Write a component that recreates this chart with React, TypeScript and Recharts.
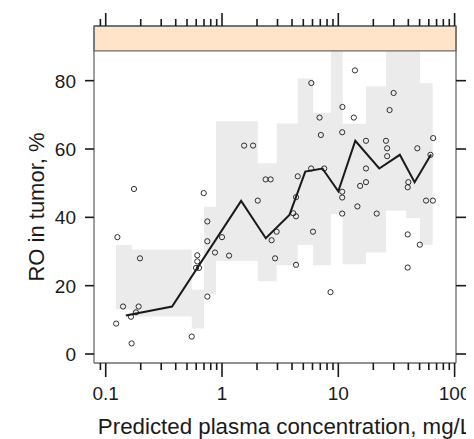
import React from 'react';
import { ComposedChart, XAxis, YAxis, Area, Line, Scatter, ReferenceArea } from 'recharts';

// binned interval (gray band)
const binStart = [0.1227, 0.1674, 0.549, 0.7, 0.888, 2.028, 2.953, 4.477, 6.06, 8.65, 10.91, 17.3, 25.7, 38.2, 50.4];
const binLastEnd = 64.8;
const bandLow = [13.1, 11.0, 7.5, 17.4, 27.2, 21.3, 26.0, 31.9, 26.0, 41.0, 26.3, 29.7, 41.9, 39.8, 31.9];
const bandHigh = [31.9, 30.6, 18.8, 43.1, 68.1, 55.8, 67.5, 80.6, 70.6, 88.7, 67.4, 78.3, 88.7, 88.7, 79.3];

// median line
const medX = [0.149, 0.372, 1.46, 2.38, 3.8, 5.2, 7.3, 10.0, 14.0, 22.5, 33.8, 45.3, 62.7];
const medY = [11.3, 13.9, 44.8, 33.9, 40.7, 53.4, 54.3, 47.6, 62.4, 54.3, 58.3, 50.3, 58.4];

// observations
const pointX = [
  0.123, 0.126, 0.141, 0.165, 0.167, 0.175, 0.182, 0.192, 0.197, 0.549,
  0.598, 0.613, 0.613, 0.634, 0.696, 0.748, 0.748, 0.748, 0.87, 1.0,
  1.15, 1.55, 1.85, 2.03, 2.37, 2.62, 2.67, 2.86, 2.95, 4.1,
  4.33, 4.33, 4.33, 4.48, 5.84, 5.86, 6.06, 6.9, 7.08, 7.57,
  8.57, 10.85, 10.8, 10.8, 10.8, 10.8, 13.6, 13.9, 14.6, 15.4,
  17.3, 17.3, 17.3, 21.4, 25.7, 26.3, 26.3, 27.6, 29.9, 39.5,
  39.5, 39.5, 40.0, 47.8, 50.2, 56.8, 62.0, 65.0, 65.4,
];
const pointY = [
  8.9, 34.2, 13.9, 10.9, 3.1, 48.3, 12.2, 13.9, 28.0, 5.1,
  25.2, 27.1, 28.9, 25.2, 47.1, 38.8, 33.0, 16.8, 29.7, 34.2,
  28.8, 61.0, 61.0, 44.9, 51.1, 51.1, 33.3, 28.0, 35.8, 41.2,
  40.3, 45.9, 26.1, 52.0, 54.3, 79.3, 35.8, 69.2, 64.1, 54.3,
  18.1, 72.3, 64.9, 47.5, 45.8, 41.1, 69.2, 83.0, 43.2, 49.2,
  50.3, 54.3, 62.4, 41.1, 62.4, 60.2, 57.9, 71.4, 76.4, 35.0,
  25.3, 48.8, 50.3, 60.2, 32.0, 44.9, 58.3, 44.9, 63.2,
];

const xTicks = [
  0.09, 0.1, 0.2, 0.3, 0.4, 0.5, 0.6, 0.7, 0.8, 0.9,
  1, 2, 3, 4, 5, 6, 7, 8, 9,
  10, 20, 30, 40, 50, 60, 70, 80, 90, 100,
];
const xMajor = [0.1, 1, 10, 100];
const yTicks = [0, 20, 40, 60, 80];

const X_DOMAIN = [0.0793, 102.8];
const Y_DOMAIN = [-2.63, 96.0];
const STRIP_BOTTOM = 88.7;

const bandData = binStart.map((x, i) => ({ x, band: [bandLow[i], bandHigh[i]] }));
bandData.push({ x: binLastEnd, band: [bandLow[bandLow.length - 1], bandHigh[bandHigh.length - 1]] });
const medData = medX.map((x, i) => ({ x, y: medY[i] }));
const pointData = pointX.map((x, i) => ({ x, y: pointY[i] }));

const FONT = '"Liberation Sans", Arial, sans-serif';
const INK = '#1a1a1a';
const BORDER = '#6b6b6b';

const BottomTick = (props: any) => {
  const { x, y, payload } = props;
  const major = xMajor.includes(payload.value);
  return (
    <g>
      <line x1={x} x2={x} y1={y} y2={y + (major ? 14 : 7)} stroke={INK} strokeWidth={1.6} />
      {major && (
        <text x={x} y={y + 36.5} textAnchor="middle" fontSize={19} fontFamily={FONT} fill={INK}>
          {String(payload.value)}
        </text>
      )}
    </g>
  );
};

const TopTick = (props: any) => {
  const { x, y, payload } = props;
  const major = xMajor.includes(payload.value);
  return <line x1={x} x2={x} y1={y} y2={y - (major ? 13 : 7)} stroke={INK} strokeWidth={1.6} />;
};

const LeftTick = (props: any) => {
  const { x, y, payload } = props;
  return (
    <g>
      <line x1={x - 9} x2={x} y1={y} y2={y} stroke={INK} strokeWidth={1.6} />
      <text x={x - 18} y={y} dy="0.36em" textAnchor="end" fontSize={19} fontFamily={FONT} fill={INK}>
        {payload.value}
      </text>
    </g>
  );
};

const RightTick = (props: any) => {
  const { x, y } = props;
  return <line x1={x} x2={x + 10} y1={y} y2={y} stroke={INK} strokeWidth={1.6} />;
};

const Circle = (props: any) => (
  <circle cx={props.cx} cy={props.cy} r={2.6} fill="none" stroke={INK} strokeWidth={0.9} />
);

export default function App() {
  return (
    <ComposedChart
      width={466}
      height={431}
      data={bandData}
      margin={{ top: 4, right: 6, bottom: 0, left: 20 }}
    >
      <XAxis
        dataKey="x"
        type="number"
        scale="log"
        domain={X_DOMAIN}
        allowDataOverflow
        ticks={xTicks}
        interval={0}
        tickSize={0}
        tickMargin={0}
        tickLine={false}
        tick={<BottomTick />}
        axisLine={{ stroke: BORDER, strokeWidth: 1.3 }}
        height={76}
        label={() => (
          <text x={277} y={426} textAnchor="middle" fontSize={22.3} fontFamily={FONT} fill={INK}>
            Predicted plasma concentration, mg/L
          </text>
        )}
      />
      <XAxis
        xAxisId="top"
        orientation="top"
        dataKey="x"
        type="number"
        scale="log"
        domain={X_DOMAIN}
        allowDataOverflow
        ticks={xTicks}
        interval={0}
        tickSize={0}
        tickMargin={0}
        tickLine={false}
        tick={<TopTick />}
        axisLine={{ stroke: BORDER, strokeWidth: 1.3 }}
        height={14}
      />
      <YAxis
        type="number"
        domain={Y_DOMAIN}
        allowDataOverflow
        ticks={yTicks}
        interval={0}
        tickSize={0}
        tickMargin={0}
        tickLine={false}
        tick={<LeftTick />}
        axisLine={{ stroke: BORDER, strokeWidth: 1.3 }}
        width={66}
        label={() => (
          <text
            x={28}
            y={199}
            transform="rotate(-90 28 199)"
            textAnchor="middle"
            dominantBaseline="central"
            fontSize={22}
            fontFamily={FONT}
            fill={INK}
          >
            RO in tumor, %
          </text>
        )}
      />
      <YAxis
        yAxisId="right"
        orientation="right"
        type="number"
        domain={Y_DOMAIN}
        allowDataOverflow
        ticks={yTicks}
        interval={0}
        tickSize={0}
        tickMargin={0}
        tickLine={false}
        tick={<RightTick />}
        axisLine={{ stroke: BORDER, strokeWidth: 1.3 }}
        width={12}
      />
      <Area
        dataKey="band"
        type="stepAfter"
        fill="#ebebeb"
        fillOpacity={1}
        stroke="none"
        isAnimationActive={false}
      />
      <Scatter data={pointData} dataKey="y" shape={<Circle />} isAnimationActive={false} />
      <Line
        data={medData}
        dataKey="y"
        type="linear"
        stroke={INK}
        strokeWidth={2}
        dot={false}
        isAnimationActive={false}
      />
      <ReferenceArea
        x1={X_DOMAIN[0]}
        x2={X_DOMAIN[1]}
        y1={STRIP_BOTTOM}
        y2={Y_DOMAIN[1]}
        fill="#ffe4ca"
        fillOpacity={1}
        stroke={BORDER}
        strokeWidth={1.3}
      />
    </ComposedChart>
  );
}
